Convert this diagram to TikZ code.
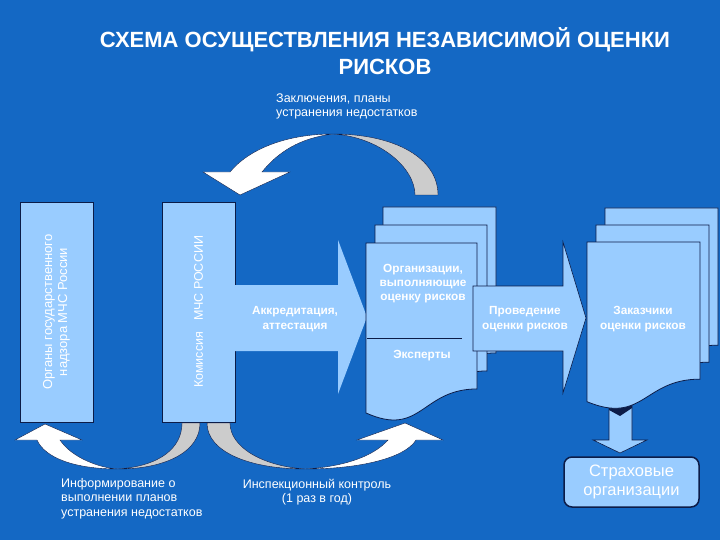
\documentclass[tikz,border=0pt]{standalone}
\usepackage{fontspec}
\setmainfont{Liberation Sans}
\definecolor{bg}{RGB}{20,104,196}
\definecolor{lb}{RGB}{153,204,255}
\definecolor{nv}{RGB}{12,28,72}
\definecolor{gr}{RGB}{204,204,204}
\tikzset{
  box/.style={fill=lb, draw=nv, line width=0.8pt},
  band/.style={draw=nv, line width=0.4pt},
  wtxt/.style={text=white, inner sep=0pt, align=center, font=\fontsize{12.5}{14.5}\selectfont},
  btxt/.style={text=white, inner sep=0pt, align=center, font=\bfseries\fontsize{11.8}{15}\selectfont},
  ltxt/.style={text=white, inner sep=0pt, align=left, anchor=north west, font=\fontsize{12.5}{14.5}\selectfont},
}
\newcommand{\mydoc}[4]{%
  \path[box] (#1,#2) -- ({#1+#3},#2) -- ({#1+#3},{#2+0.802*#4})
    .. controls ({#1+0.5*#3},{#2+0.802*#4}) and ({#1+0.5*#3},{#2+1.07*#4}) .. (#1,{#2+0.934*#4}) -- cycle;}
\begin{document}
\begin{tikzpicture}[x=1pt,y=-1pt]
\useasboundingbox (0,0) rectangle (720,540);
\fill[bg] (0,0) rectangle (720,540);
% title
\node[text=white, inner sep=0pt, align=center, font=\bfseries\fontsize{22}{27}\selectfont] (title) at (385,51)
  {СХЕМА ОСУЩЕСТВЛЕНИЯ НЕЗАВИСИМОЙ ОЦЕНКИ\\РИСКОВ};
\node[ltxt] (zakl) at (276,93.5) {Заключения, планы\\устранения недостатков};
% top curved arrow
\path[band, fill=gr] (438,195) .. controls (438,158) and (395,134) .. (333,134)
  .. controls (380,137) and (415,168) .. (415,195) -- cycle;
\path[band, fill=white] (333,134) .. controls (285,134) and (248,150) .. (230,172)
  -- (203,172) -- (240,195) -- (290,172) -- (262,172)
  .. controls (278,152) and (300,138) .. (333,134) -- cycle;
% bottom curved arrows
\path[band, fill=gr] (200,423) .. controls (200,452) and (165,469) .. (118,469)
  .. controls (160,466) and (182,448) .. (182,423) -- cycle;
\path[band, fill=white] (118,469) .. controls (75,469) and (45,458) .. (37,440)
  -- (15,440) -- (45,424) -- (82,440) -- (60,440)
  .. controls (72,458) and (100,468) .. (118,469) -- cycle;
\path[band, fill=gr] (207,423) .. controls (207,452) and (250,469) .. (305,469)
  .. controls (262,466) and (230,447) .. (230,423) -- cycle;
\path[band, fill=white] (305,469) .. controls (360,469) and (405,458) .. (416,440)
  -- (443,440) -- (405,423) -- (357,440) -- (388,440)
  .. controls (372,458) and (340,467) .. (305,469) -- cycle;
% vertical boxes
\node[box, rotate=90, minimum width=220pt, minimum height=73pt, inner sep=0pt,
  text=white, align=center, font=\fontsize{13}{15}\selectfont] (organy) at (56.5,312)
  {Органы государственного\\надзора МЧС России};
\node[box, rotate=90, minimum width=220pt, minimum height=73pt, inner sep=0pt,
  text=white, align=center, font=\fontsize{12.5}{15}\selectfont] (komis) at (198.5,312)
  {Комиссия\hspace{11pt}МЧС РОССИИ};
% accreditation arrow
\path[fill=lb] (235,285) -- (338,285) -- (338,240) -- (367,317) -- (338,394) -- (338,351) -- (235,351) -- cycle;
\node[btxt] (akkr) at (295,319) {Аккредитация,\\аттестация};
% organisations documents
\mydoc{383}{207}{113}{182}
\mydoc{375}{225}{112}{182}
\mydoc{366}{243}{111}{182}
\node[btxt, font=\bfseries\fontsize{11.8}{14}\selectfont] (org) at (423,284) {Организации,\\выполняющие\\оценку рисков};
\coordinate (lineL) at (367,338);
\coordinate (lineR) at (462,338);
\draw[nv, line width=0.8pt] (lineL) -- (lineR);
\node[btxt] (eksp) at (422,356) {Эксперты};
% provedenie arrow
\path[fill=lb, draw=nv, line width=0.6pt] (473,286) -- (563,286) -- (563,242) -- (586,318) -- (563,393) -- (563,351) -- (473,351) -- cycle;
\node[btxt] (prov) at (525,319) {Проведение\\оценки рисков};
% down arrow
\path[fill=lb, draw=nv, line width=0.6pt] (609,396) -- (632,396) -- (632,440) -- (647,440) -- (620,453) -- (593,440) -- (609,440) -- cycle;
\fill[nv] (609,398) -- (632,398) -- (632,408) -- (620,416) -- (609,410) -- cycle;
% customers documents
\mydoc{605}{208}{113}{171}
\mydoc{596}{225}{113}{171}
\mydoc{587}{242}{113}{171}
\node[btxt] (zakaz) at (643,319) {Заказчики\\оценки рисков};
% insurance
\node[fill=lb, draw=nv, line width=1.5pt, rounded corners=8pt, minimum width=135pt, minimum height=50pt,
  text=white, align=center, font=\fontsize{16.5}{19}\selectfont] (strah) at (631.5,482) {Страховые\\организации};
% bottom texts
\node[ltxt] (inform) at (61,478) {Информирование о\\выполнении планов\\устранения недостатков};
\node[wtxt] (insp) at (317,492) {Инспекционный контроль\\(1 раз в год)};
\end{tikzpicture}
\end{document}
